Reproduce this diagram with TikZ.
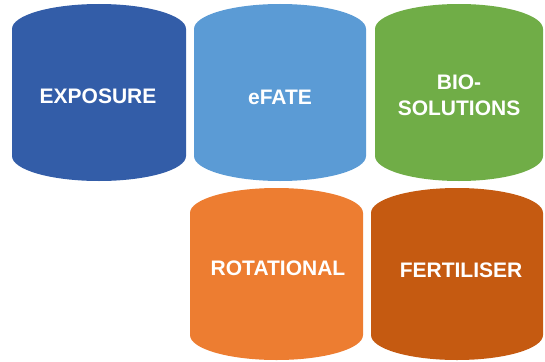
\documentclass[tikz,border=0pt]{standalone}
\usepackage{fontspec}
\setmainfont{Liberation Sans}
\definecolor{cExp}{HTML}{335DA8}
\definecolor{cFate}{HTML}{5B9BD5}
\definecolor{cBio}{HTML}{70AD47}
\definecolor{cRot}{HTML}{ED7D31}
\definecolor{cFert}{HTML}{C55A11}
\tikzset{
  lbl/.style={text=white, font=\bfseries\fontsize{21}{26}\selectfont, align=center, inner sep=0pt},
}
% cylinder-like box: #1 colour, #2 left, #3 right, #4 top, #5 bottom (pixel coords, y downwards)
\newcommand{\cylbox}[5]{%
  \pgfmathsetmacro{\rx}{(#3-#2)/2}%
  \fill[#1] (#2,{-(#4+25)}) arc[start angle=180, end angle=0, x radius=\rx, y radius=25]
     -- (#3,{-(#5-25)}) arc[start angle=0, end angle=-180, x radius=\rx, y radius=25] -- cycle;%
}
\begin{document}
\begin{tikzpicture}[x=1pt,y=1pt]
\useasboundingbox (0,0) rectangle (545,-361);
\cylbox{cExp}{12}{186}{4}{181}
\cylbox{cFate}{194}{366}{4}{181}
\cylbox{cBio}{375}{543}{4}{181}
\cylbox{cRot}{190}{363}{188}{360}
\cylbox{cFert}{371}{543}{188}{360}
\node[lbl] (exp) at (98,-96) {EXPOSURE};
\node[lbl] (fate) at (280,-97) {eFATE};
\node[lbl] (bio) at (459,-95) {BIO-\\SOLUTIONS};
\node[lbl] (rot) at (278,-268) {ROTATIONAL};
\node[lbl] (fert) at (461,-270) {FERTILISER};
\end{tikzpicture}
\end{document}
